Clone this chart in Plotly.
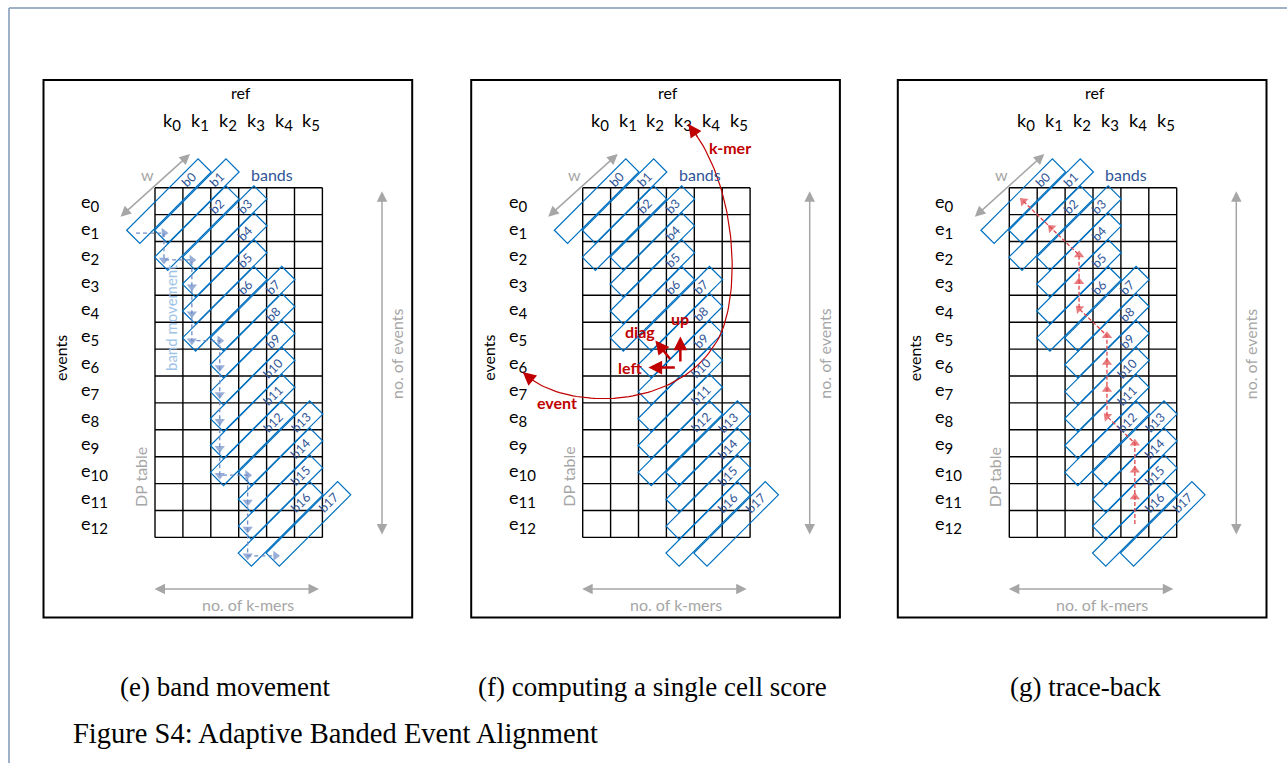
import numpy as np
import plotly.graph_objects as go

# ---------------- data ----------------
kmer_labels = ["k0", "k1", "k2", "k3", "k4", "k5"]
event_labels = ["e%d" % i for i in range(13)]
band_names = ["b%d" % i for i in range(18)]
band_start = (1, -1)            # lower-left cell (row, col) of band b0
band_moves = ["R", "D", "R", "D", "D", "D", "R", "D", "D", "D", "D", "D", "R", "D", "D", "D", "R"]
trace_back = [(12, 4), (11, 4), (10, 4), (9, 4), (8, 3), (7, 3), (6, 3), (5, 3),
              (4, 2), (3, 2), (2, 2), (1, 1), (0, 0)]
score_cell = (6, 3)
score_moves = ["diag", "up", "left"]
panel_captions = ["(e) band movement", "(f) computing a single cell score", "(g) trace-back"]
figure_caption = "Figure S4: Adaptive Banded Event Alignment"

# ---------------- layout constants ----------------
W, H = 1287, 763
GX = [155.0, 582.7, 1009.3]
GY = 187.7
CW, CH = 27.9, 26.9
NCOL, NROW = len(kmer_labels), len(event_labels)
CAP_X = [225, 652, 1085]

SANS = "Lato, Calibri, 'Open Sans', sans-serif"
SERIF = "'Liberation Serif', 'Times New Roman', serif"
GREY = "#A6A6A6"
BAND = "#0070C0"
BANDTXT = "#2F5597"
RED = "#C00000"

fig = go.Figure()
shapes = []
ann = []


def sub(label, size):
    return "%s<sub><span style='font-size:%dpx'>%s</span></sub>" % (label[0], size, label[1:])


def cx(p, col):
    return GX[p] + (col + 0.5) * CW


def cy(row):
    return GY + (row + 0.5) * CH


def text(x, y, s, size=15, color="black", angle=0, xanchor="center", family=SANS, bold=False):
    if bold:
        s = "<b>%s</b>" % s
    ann.append(dict(x=x, y=y, xref="x", yref="y", text=s, showarrow=False, textangle=angle,
                    xanchor=xanchor, yanchor="middle",
                    font=dict(family=family, size=size, color=color)))


def arrow(x0, y0, x1, y1, color, width=1.5, size=1.5, both=False, head=2):
    ann.append(dict(x=x1, y=y1, ax=x0, ay=y0, xref="x", yref="y", axref="x", ayref="y",
                    text="", showarrow=True, arrowhead=head, arrowsize=size, arrowwidth=width,
                    arrowcolor=color, arrowside="end+start" if both else "end",
                    startarrowhead=head, startarrowsize=size))


# band lower-left cells
ll = [band_start]
for m in band_moves:
    r, c = ll[-1]
    ll.append((r, c + 1) if m == "R" else (r + 1, c))

L_HALF, H_HALF = 50.5, 9.3
u = np.array([1.0, -1.0]) / np.sqrt(2)
n = np.array([1.0, 1.0]) / np.sqrt(2)

for p in range(3):
    gx = GX[p]
    # panel frame
    shapes.append(dict(type="rect", xref="x", yref="y", x0=gx - 111.5, x1=gx + 257.2, y0=80, y1=617.5,
                       line=dict(color="black", width=2), layer="below"))
    # grid
    for i in range(NCOL + 1):
        shapes.append(dict(type="line", xref="x", yref="y", x0=gx + i * CW, x1=gx + i * CW,
                           y0=GY, y1=GY + NROW * CH, line=dict(color="black", width=1.4), layer="below"))
    for j in range(NROW + 1):
        shapes.append(dict(type="line", xref="x", yref="y", x0=gx, x1=gx + NCOL * CW,
                           y0=GY + j * CH, y1=GY + j * CH, line=dict(color="black", width=1.4), layer="below"))
    # bands
    for b, (r, c) in enumerate(ll):
        ctr = np.array([cx(p, c + 1), cy(r - 1)])
        pts = [ctr - L_HALF * u - H_HALF * n, ctr - L_HALF * u + H_HALF * n,
               ctr + L_HALF * u + H_HALF * n, ctr + L_HALF * u - H_HALF * n]
        path = "M " + " L ".join("%.2f,%.2f" % (q[0], q[1]) for q in pts) + " Z"
        shapes.append(dict(type="path", xref="x", yref="y", path=path,
                           line=dict(color=BAND, width=1.2), layer="below"))
        lp = ctr + 30 * u
        text(lp[0] - 1, lp[1], band_names[b], size=12.5, color=BANDTXT, angle=-45)
    # labels
    text(gx + NCOL * CW / 2 + 2, 92, "ref", size=16)
    for i, k in enumerate(kmer_labels):
        text(cx(p, i) + 3, 121, sub(k, 15), size=18)
    for j, e in enumerate(event_labels):
        text(gx - 76, cy(j) + 1, sub(e, 15), size=18, xanchor="left")
    text(gx - 95, 358, "events", size=16, angle=-90)
    text(gx + 241, 354, "no. of events", size=16, color=GREY, angle=-90)
    arrow(gx + 227, GY + 2, gx + 227, GY + NROW * CH - 3, GREY, width=1.5, size=1.4, both=True)
    arrow(gx - 2, 589, gx + 164, 589, GREY, width=1.5, size=1.4, both=True)
    text(gx + 93, 604, "no. of k-mers", size=16, color=GREY)
    text(gx - 15, 477, "DP table", size=16, color=GREY, angle=-90)
    text(gx - 8, 174, "w", size=16, color=GREY)
    arrow(gx - 36, 218, gx + 35, 154, GREY, width=1.5, size=1.4, both=True)
    text(gx + 117, 174, "bands", size=16, color=BANDTXT)
    # caption
    text(CAP_X[p], 687, panel_captions[p], size=27, family=SERIF)

# ---- panel (e): band movement ----
mx = [cx(0, c) - 5 for (r, c) in ll]
my = [cy(r) + 5 for (r, c) in ll]
fig.add_trace(go.Scatter(x=mx, y=my, mode="lines+markers",
                         line=dict(color="#6F8DC6", width=1.3, dash="4px,3px"),
                         marker=dict(symbol="triangle-up", size=[0] + [9] * (len(mx) - 1),
                                     angleref="previous", color="#6F8DC6",
                                     line=dict(width=0)),
                         hoverinfo="skip"))
text(GX[0] + 16, 318, "band movement", size=15, color="#9DC3E6", angle=-90)

# ---- panel (g): trace-back ----
tx = [cx(2, c) for (r, c) in trace_back]
ty = [cy(r) for (r, c) in trace_back]
fig.add_trace(go.Scatter(x=tx, y=ty, mode="lines+markers",
                         line=dict(color="#E0474C", width=1.3, dash="4px,2px"),
                         marker=dict(symbol="triangle-up", size=[0] + [9] * (len(tx) - 1),
                                     angleref="previous", color="#E0474C",
                                     line=dict(width=0)),
                         hoverinfo="skip"))

# ---- panel (f): single cell score ----
sr, sc = score_cell
ox, oy = cx(1, sc), cy(sr)
arrow(ox, oy + 0.5, ox, oy - 26, RED, width=2.5, size=1.1)
arrow(ox - 4, oy + 5, ox - 32, oy + 5, RED, width=2.5, size=1.1)
arrow(ox - 9, oy - 2, ox - 25, oy - 22, RED, width=2.5, size=1.1)
lab_off = {"diag": (-40, -31), "up": (0, -44), "left": (-50, 5)}
for m in score_moves:
    text(ox + lab_off[m][0], oy + lab_off[m][1], m, size=16, color=RED, bold=True)


def bez(P0, P1, P2, P3, k=60):
    t = np.linspace(0, 1, k)[:, None]
    P0, P1, P2, P3 = map(np.array, (P0, P1, P2, P3))
    return ((1 - t) ** 3) * P0 + 3 * ((1 - t) ** 2) * t * P1 + 3 * (1 - t) * t ** 2 * P2 + t ** 3 * P3


E = (GX[1] - 60, cy(6) + 9.5)
M = (GX[1] + 130.5, 347)
T = (cx(1, 3) + 8, 124)
segA = bez(E, (E[0] + 37, E[1] + 38), (M[0] - 43, 412), M)
segB = bez(M, (GX[1] + 159, 310), (GX[1] + 159, 190), T)
curve = np.vstack([segA, segB[1:]])
fig.add_trace(go.Scatter(x=curve[:, 0], y=curve[:, 1], mode="lines",
                         line=dict(color=RED, width=1.2), hoverinfo="skip"))
arrow(curve[4, 0], curve[4, 1], E[0], E[1], RED, width=1.2, size=2.2)
arrow(curve[-5, 0], curve[-5, 1], T[0], T[1], RED, width=1.2, size=2.2)
text(GX[1] + 147, 147, "k-mer", size=16, color=RED, bold=True)
text(GX[1] - 26, 402, "event", size=16, color=RED, bold=True)

# ---- outer border & figure caption ----
shapes.append(dict(type="line", xref="x", yref="y", x0=9, x1=W, y0=8, y1=8,
                   line=dict(color="#7F97B4", width=1.5), layer="below"))
shapes.append(dict(type="line", xref="x", yref="y", x0=9, x1=9, y0=8, y1=H,
                   line=dict(color="#7F97B4", width=1.5), layer="below"))
text(71, 733, figure_caption, size=28.5, family=SERIF, xanchor="left")

fig.update_layout(width=W, height=H, margin=dict(l=0, r=0, t=0, b=0),
                  xaxis=dict(range=[0, W], visible=False, fixedrange=True),
                  yaxis=dict(range=[H, 0], visible=False, fixedrange=True),
                  plot_bgcolor="white", paper_bgcolor="white", showlegend=False,
                  shapes=shapes, annotations=ann)
fig.write_html("out.html", config={"displayModeBar": False},
               post_script="document.body.style.margin='0';")
